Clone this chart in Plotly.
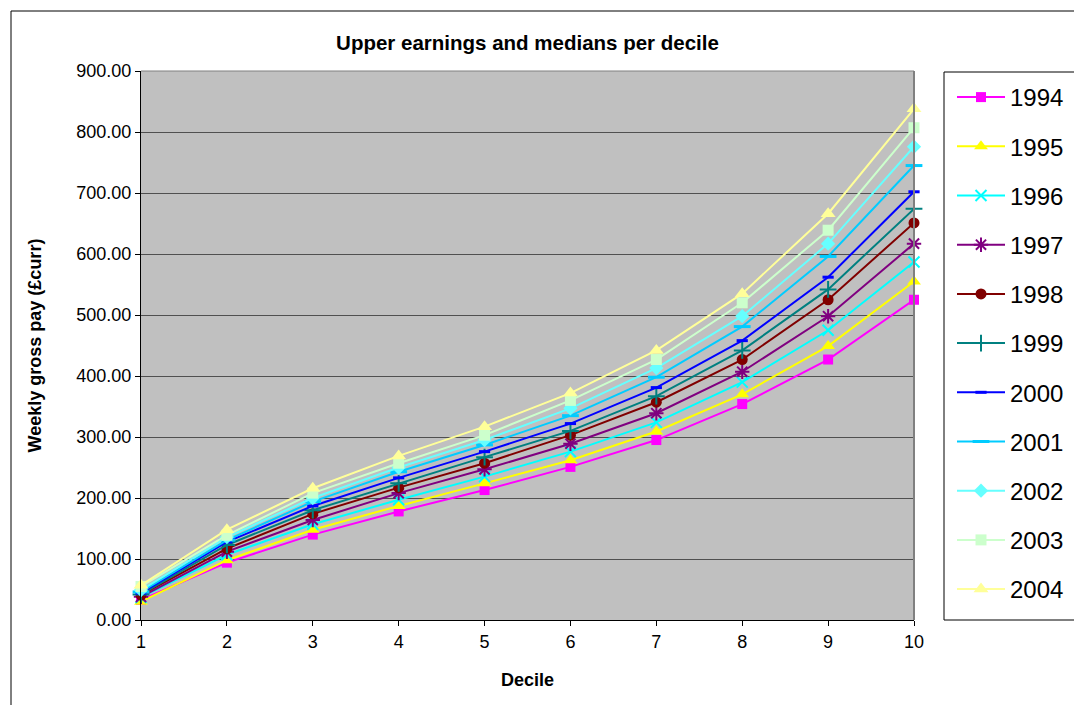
import plotly.graph_objects as go

deciles = [1, 2, 3, 4, 5, 6, 7, 8, 9, 10]
years = ["1994", "1995", "1996", "1997", "1998", "1999", "2000", "2001", "2002", "2003", "2004"]

pay_1994 = [33, 94, 140, 178, 213, 251, 295, 354, 427, 525]
pay_1995 = [30, 98, 148, 187, 224, 262, 309, 370, 449, 555]
pay_1996 = [37, 107, 157, 197, 235, 276, 324, 390, 475, 587]
pay_1997 = [38, 112, 164, 208, 247, 289, 339, 407, 498, 617]
pay_1998 = [41, 117, 174, 217, 257, 303, 357, 427, 525, 651]
pay_1999 = [42, 123, 180, 224, 267, 310, 367, 442, 542, 674]
pay_2000 = [44, 128, 187, 233, 276, 322, 381, 458, 562, 702]
pay_2001 = [46, 131, 194, 243, 287, 335, 398, 481, 596, 745]
pay_2002 = [49, 136, 200, 250, 295, 347, 413, 498, 617, 776]
pay_2003 = [55, 139, 208, 257, 303, 360, 427, 520, 639, 807]
pay_2004 = [57, 148, 216, 269, 317, 372, 442, 535, 666, 838]

series = [pay_1994, pay_1995, pay_1996, pay_1997, pay_1998, pay_1999,
          pay_2000, pay_2001, pay_2002, pay_2003, pay_2004]

colors = ["#FF00FF", "#FFFF00", "#00FFFF", "#800080", "#800000", "#008080",
          "#0000FF", "#00CCFF", "#66FFFF", "#CCFFCC", "#FFFF99"]
symbols = ["square", "triangle-up", "x-thin-open", "asterisk-open", "circle",
           "cross-thin-open", "line-ew-open", "line-ew-open", "diamond", "square",
           "triangle-up"]
sizes = [10, 12, 11, 12, 11, 12, 8, 12, 11, 11, 13]
mlw = [0, 0, 2, 2, 0, 2, 3, 3, 0, 0, 0]

fig = go.Figure()
for i, (yr, vals) in enumerate(zip(years, series)):
    fig.add_trace(go.Scatter(
        x=deciles, y=vals, name=yr, mode="lines+markers",
        legendgroup=yr,
        line=dict(color=colors[i], width=2),
        marker=dict(symbol=symbols[i], size=sizes[i], color=colors[i],
                    line=dict(color=colors[i], width=mlw[i])),
        cliponaxis=False,
    ))

# page body has an 8px margin; work in reference pixel coords and shift
OFF = 8
W, H = 1082 - OFF, 705 - OFF
L, R, T, B = 141 - OFF, 914 - OFF, 71 - OFF, 620 - OFF
pw, ph = R - L, B - T

def px(xp):
    return (xp - OFF - L) / pw

def py(yp):
    return (B - (yp - OFF)) / ph

fig.update_layout(
    width=W, height=H,
    margin=dict(l=L, r=W - R, t=T, b=H - B, pad=0),
    paper_bgcolor="white",
    plot_bgcolor="#C0C0C0",
    font=dict(family="Liberation Sans, Arial, sans-serif", color="black", size=18),
    title=dict(text="<b>Upper earnings and medians per decile</b>",
               x=0.5, xref="paper", xanchor="center",
               y=1 - (43 - OFF) / H, yanchor="middle",
               font=dict(size=20.5)),
    showlegend=True,
    legend=dict(
        x=px(952), xanchor="left", y=py(75), yanchor="top",
        borderwidth=0, bgcolor="rgba(0,0,0,0)",
        font=dict(size=24),
        tracegroupgap=15,
        itemwidth=48,
    ),
    xaxis=dict(
        range=[1, 10], tickmode="array", tickvals=deciles,
        ticktext=[str(d) for d in deciles],
        showgrid=False, zeroline=False,
        showline=True, linecolor="black", linewidth=1,
        ticks="outside", ticklen=5, tickcolor="black",
        tickfont=dict(size=18),
        title=dict(text="<b>Decile</b>", font=dict(size=18), standoff=22),
    ),
    yaxis=dict(
        range=[0, 900], dtick=100, tickformat=".2f",
        showgrid=True, gridcolor="#505050", gridwidth=1,
        zeroline=False,
        showline=True, linecolor="black", linewidth=1,
        ticks="outside", ticklen=5, tickcolor="black",
        tickfont=dict(size=18),
        title=dict(text="<b>Weekly gross pay (£curr)</b>", font=dict(size=18), standoff=30),
    ),
    shapes=[
        dict(type="rect", xref="paper", yref="paper",
             x0=px(11), x1=px(1100), y0=py(720), y1=py(11),
             line=dict(color="black", width=1), fillcolor="rgba(0,0,0,0)", layer="below"),
        dict(type="rect", xref="paper", yref="paper",
             x0=px(944), x1=px(1076), y0=py(620), y1=py(72),
             line=dict(color="black", width=1), fillcolor="white", layer="below"),
        dict(type="line", xref="paper", yref="paper", x0=1, x1=1, y0=0, y1=1,
             line=dict(color="#808080", width=2)),
        dict(type="line", xref="paper", yref="paper", x0=0, x1=1, y0=1, y1=1,
             line=dict(color="#808080", width=1)),
    ],
)

fig.write_html("out.html")
